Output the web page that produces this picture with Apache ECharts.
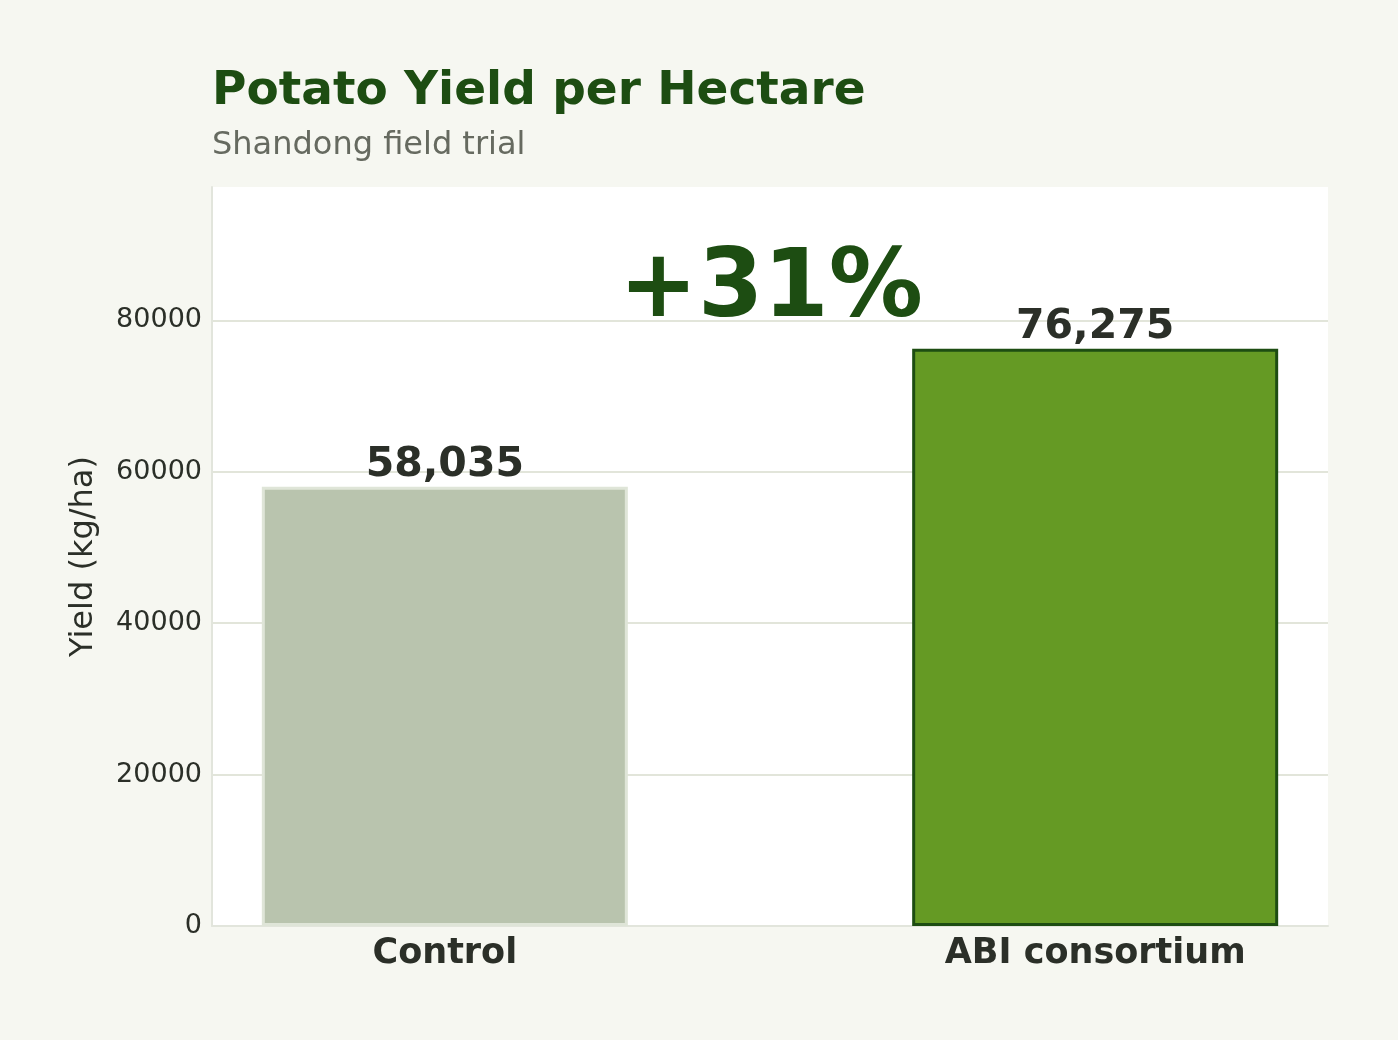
<!DOCTYPE html>
<html>
<head>
<meta charset="utf-8">
<title>Potato Yield per Hectare</title>
<script src="https://cdn.jsdelivr.net/npm/echarts@6/dist/echarts.min.js"></script>
<style>
  html, body { margin: 0; padding: 0; background: #f6f7f1; }
  #chart { width: 1398px; height: 1040px; }
</style>
</head>
<body>
<div id="chart"></div>
<script>
// 数据
const categories = ["Control", "ABI consortium"];
const yieldValues = [58035, 76275];
const yTicks = [0, 20000, 40000, 60000, 80000];

const FONT = "DejaVu Sans";
const INK = "#2b2f28";
const DARK_GREEN = "#1d4d12";

// 增幅
const gain = Math.round((yieldValues[1] / yieldValues[0] - 1) * 100);

const chart = echarts.init(document.getElementById("chart"));

const option = {
  backgroundColor: "#f6f7f1",
  animation: false,
  title: {
    text: "Potato Yield per Hectare",
    subtext: "Shandong field trial",
    left: 207,
    top: 63,
    itemGap: 15,
    textStyle: {
      fontFamily: FONT,
      fontSize: 47,
      fontWeight: "bold",
      color: DARK_GREEN
    },
    subtextStyle: {
      fontFamily: FONT,
      fontSize: 32,
      color: "#666a60"
    }
  },
  grid: {
    left: 212,
    right: 70,
    top: 187,
    bottom: 114,
    show: true,
    backgroundColor: "#ffffff",
    borderWidth: 0
  },
  xAxis: {
    type: "value",
    min: -0.358,
    max: 1.358,
    splitLine: { show: false },
    axisTick: { show: false },
    axisLine: {
      show: true,
      onZero: false,
      lineStyle: { color: "#e2e5dc", width: 2 }
    },
    axisLabel: {
      customValues: [0, 1],
      margin: 10,
      fontFamily: FONT,
      fontSize: 35,
      fontWeight: "bold",
      color: INK,
      formatter: v => categories[Math.round(v)] || ""
    }
  },
  yAxis: {
    type: "value",
    min: 0,
    max: Math.round(yieldValues[1] * 1.28),
    interval: 20000,
    name: "Yield (kg/ha)",
    nameLocation: "middle",
    nameGap: 112,
    nameTextStyle: {
      fontFamily: FONT,
      fontSize: 32,
      color: INK
    },
    axisLine: {
      show: true,
      onZero: false,
      lineStyle: { color: "#e2e5dc", width: 2 }
    },
    axisTick: { show: false },
    axisLabel: {
      customValues: yTicks,
      margin: 10,
      lineHeight: 27,
      verticalAlign: "middle",
      padding: [8, 0, 0, 0],
      fontFamily: FONT,
      fontSize: 27,
      color: INK,
      formatter: v => String(v)
    },
    splitLine: {
      show: true,
      showMaxLine: false,
      showMinLine: false,
      lineStyle: { color: "#e2e5da", width: 2 }
    }
  },
  series: [
    {
      type: "bar",
      barWidth: 366,
      data: yieldValues.map((v, i) => ({
        value: [i, v],
        itemStyle: i === 0
          ? { color: "#b9c4ae", borderColor: "#dfe5d8", borderWidth: 3 }
          : { color: "#659a24", borderColor: DARK_GREEN, borderWidth: 3 }
      })),
      label: {
        show: true,
        position: "top",
        distance: 1,
        fontFamily: FONT,
        fontSize: 41,
        fontWeight: "bold",
        color: INK,
        formatter: p => p.value[1].toLocaleString("en-US")
      }
    }
  ],
  graphic: [
    {
      type: "text",
      x: 771,
      y: 245,
      style: {
        text: "+" + gain + "%",
        align: "center",
        verticalAlign: "top",
        fontFamily: FONT,
        fontSize: 94,
        fontWeight: "bold",
        fill: DARK_GREEN
      }
    }
  ]
};

chart.setOption(option);
</script>
</body>
</html>
